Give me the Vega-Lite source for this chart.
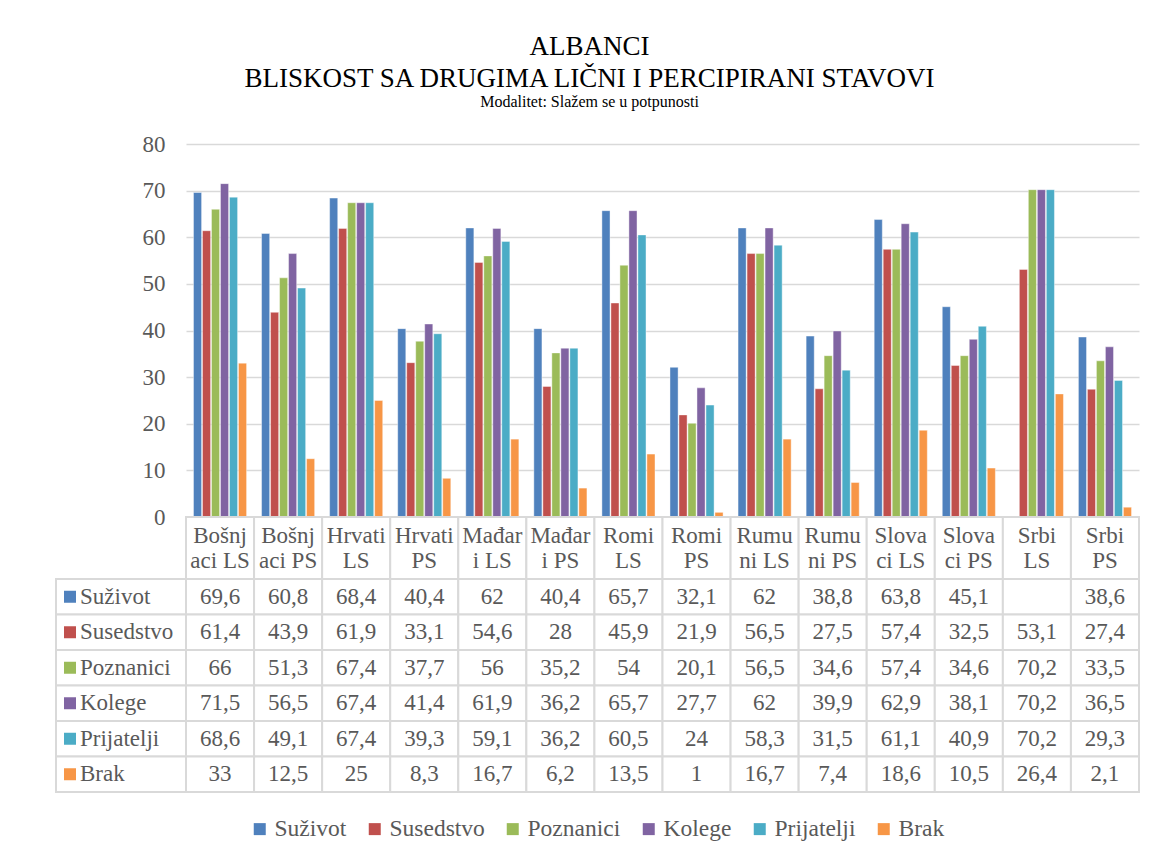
{
  "$schema": "https://vega.github.io/schema/vega-lite/v6.json",
  "background": "white",
  "padding": {"left": 55, "top": 33, "right": 14, "bottom": 10},
  "config": {
    "font": "Liberation Serif",
    "view": {"stroke": null},
    "concat": {"spacing": 0}
  },
  "title": {
    "text": ["ALBANCI", "BLISKOST SA DRUGIMA LIČNI I PERCIPIRANI STAVOVI"],
    "subtitle": "Modalitet: Slažem se u potpunosti",
    "anchor": "middle",
    "dx": -8,
    "font": "Liberation Serif",
    "fontSize": 27,
    "fontWeight": "normal",
    "lineHeight": 32,
    "color": "black",
    "subtitleFont": "Liberation Serif",
    "subtitleFontSize": 16,
    "subtitleColor": "black",
    "subtitlePadding": 1,
    "offset": 22
  },
  "datasets": {
    "vals": [
      {"grupa": "Bošnjaci LS", "stav": "Suživot", "vrednost": 69.6},
      {"grupa": "Bošnjaci PS", "stav": "Suživot", "vrednost": 60.8},
      {"grupa": "Hrvati LS", "stav": "Suživot", "vrednost": 68.4},
      {"grupa": "Hrvati PS", "stav": "Suživot", "vrednost": 40.4},
      {"grupa": "Mađari LS", "stav": "Suživot", "vrednost": 62},
      {"grupa": "Mađari PS", "stav": "Suživot", "vrednost": 40.4},
      {"grupa": "Romi LS", "stav": "Suživot", "vrednost": 65.7},
      {"grupa": "Romi PS", "stav": "Suživot", "vrednost": 32.1},
      {"grupa": "Rumuni LS", "stav": "Suživot", "vrednost": 62},
      {"grupa": "Rumuni PS", "stav": "Suživot", "vrednost": 38.8},
      {"grupa": "Slovaci LS", "stav": "Suživot", "vrednost": 63.8},
      {"grupa": "Slovaci PS", "stav": "Suživot", "vrednost": 45.1},
      {"grupa": "Srbi LS", "stav": "Suživot", "vrednost": null},
      {"grupa": "Srbi PS", "stav": "Suživot", "vrednost": 38.6},
      {"grupa": "Bošnjaci LS", "stav": "Susedstvo", "vrednost": 61.4},
      {"grupa": "Bošnjaci PS", "stav": "Susedstvo", "vrednost": 43.9},
      {"grupa": "Hrvati LS", "stav": "Susedstvo", "vrednost": 61.9},
      {"grupa": "Hrvati PS", "stav": "Susedstvo", "vrednost": 33.1},
      {"grupa": "Mađari LS", "stav": "Susedstvo", "vrednost": 54.6},
      {"grupa": "Mađari PS", "stav": "Susedstvo", "vrednost": 28},
      {"grupa": "Romi LS", "stav": "Susedstvo", "vrednost": 45.9},
      {"grupa": "Romi PS", "stav": "Susedstvo", "vrednost": 21.9},
      {"grupa": "Rumuni LS", "stav": "Susedstvo", "vrednost": 56.5},
      {"grupa": "Rumuni PS", "stav": "Susedstvo", "vrednost": 27.5},
      {"grupa": "Slovaci LS", "stav": "Susedstvo", "vrednost": 57.4},
      {"grupa": "Slovaci PS", "stav": "Susedstvo", "vrednost": 32.5},
      {"grupa": "Srbi LS", "stav": "Susedstvo", "vrednost": 53.1},
      {"grupa": "Srbi PS", "stav": "Susedstvo", "vrednost": 27.4},
      {"grupa": "Bošnjaci LS", "stav": "Poznanici", "vrednost": 66},
      {"grupa": "Bošnjaci PS", "stav": "Poznanici", "vrednost": 51.3},
      {"grupa": "Hrvati LS", "stav": "Poznanici", "vrednost": 67.4},
      {"grupa": "Hrvati PS", "stav": "Poznanici", "vrednost": 37.7},
      {"grupa": "Mađari LS", "stav": "Poznanici", "vrednost": 56},
      {"grupa": "Mađari PS", "stav": "Poznanici", "vrednost": 35.2},
      {"grupa": "Romi LS", "stav": "Poznanici", "vrednost": 54},
      {"grupa": "Romi PS", "stav": "Poznanici", "vrednost": 20.1},
      {"grupa": "Rumuni LS", "stav": "Poznanici", "vrednost": 56.5},
      {"grupa": "Rumuni PS", "stav": "Poznanici", "vrednost": 34.6},
      {"grupa": "Slovaci LS", "stav": "Poznanici", "vrednost": 57.4},
      {"grupa": "Slovaci PS", "stav": "Poznanici", "vrednost": 34.6},
      {"grupa": "Srbi LS", "stav": "Poznanici", "vrednost": 70.2},
      {"grupa": "Srbi PS", "stav": "Poznanici", "vrednost": 33.5},
      {"grupa": "Bošnjaci LS", "stav": "Kolege", "vrednost": 71.5},
      {"grupa": "Bošnjaci PS", "stav": "Kolege", "vrednost": 56.5},
      {"grupa": "Hrvati LS", "stav": "Kolege", "vrednost": 67.4},
      {"grupa": "Hrvati PS", "stav": "Kolege", "vrednost": 41.4},
      {"grupa": "Mađari LS", "stav": "Kolege", "vrednost": 61.9},
      {"grupa": "Mađari PS", "stav": "Kolege", "vrednost": 36.2},
      {"grupa": "Romi LS", "stav": "Kolege", "vrednost": 65.7},
      {"grupa": "Romi PS", "stav": "Kolege", "vrednost": 27.7},
      {"grupa": "Rumuni LS", "stav": "Kolege", "vrednost": 62},
      {"grupa": "Rumuni PS", "stav": "Kolege", "vrednost": 39.9},
      {"grupa": "Slovaci LS", "stav": "Kolege", "vrednost": 62.9},
      {"grupa": "Slovaci PS", "stav": "Kolege", "vrednost": 38.1},
      {"grupa": "Srbi LS", "stav": "Kolege", "vrednost": 70.2},
      {"grupa": "Srbi PS", "stav": "Kolege", "vrednost": 36.5},
      {"grupa": "Bošnjaci LS", "stav": "Prijatelji", "vrednost": 68.6},
      {"grupa": "Bošnjaci PS", "stav": "Prijatelji", "vrednost": 49.1},
      {"grupa": "Hrvati LS", "stav": "Prijatelji", "vrednost": 67.4},
      {"grupa": "Hrvati PS", "stav": "Prijatelji", "vrednost": 39.3},
      {"grupa": "Mađari LS", "stav": "Prijatelji", "vrednost": 59.1},
      {"grupa": "Mađari PS", "stav": "Prijatelji", "vrednost": 36.2},
      {"grupa": "Romi LS", "stav": "Prijatelji", "vrednost": 60.5},
      {"grupa": "Romi PS", "stav": "Prijatelji", "vrednost": 24},
      {"grupa": "Rumuni LS", "stav": "Prijatelji", "vrednost": 58.3},
      {"grupa": "Rumuni PS", "stav": "Prijatelji", "vrednost": 31.5},
      {"grupa": "Slovaci LS", "stav": "Prijatelji", "vrednost": 61.1},
      {"grupa": "Slovaci PS", "stav": "Prijatelji", "vrednost": 40.9},
      {"grupa": "Srbi LS", "stav": "Prijatelji", "vrednost": 70.2},
      {"grupa": "Srbi PS", "stav": "Prijatelji", "vrednost": 29.3},
      {"grupa": "Bošnjaci LS", "stav": "Brak", "vrednost": 33},
      {"grupa": "Bošnjaci PS", "stav": "Brak", "vrednost": 12.5},
      {"grupa": "Hrvati LS", "stav": "Brak", "vrednost": 25},
      {"grupa": "Hrvati PS", "stav": "Brak", "vrednost": 8.3},
      {"grupa": "Mađari LS", "stav": "Brak", "vrednost": 16.7},
      {"grupa": "Mađari PS", "stav": "Brak", "vrednost": 6.2},
      {"grupa": "Romi LS", "stav": "Brak", "vrednost": 13.5},
      {"grupa": "Romi PS", "stav": "Brak", "vrednost": 1},
      {"grupa": "Rumuni LS", "stav": "Brak", "vrednost": 16.7},
      {"grupa": "Rumuni PS", "stav": "Brak", "vrednost": 7.4},
      {"grupa": "Slovaci LS", "stav": "Brak", "vrednost": 18.6},
      {"grupa": "Slovaci PS", "stav": "Brak", "vrednost": 10.5},
      {"grupa": "Srbi LS", "stav": "Brak", "vrednost": 26.4},
      {"grupa": "Srbi PS", "stav": "Brak", "vrednost": 2.1}
    ],
    "grupe": [
      {"grupa": "Bošnjaci LS", "zaglavlje": "Bošnj\naci LS"},
      {"grupa": "Bošnjaci PS", "zaglavlje": "Bošnj\naci PS"},
      {"grupa": "Hrvati LS", "zaglavlje": "Hrvati\nLS"},
      {"grupa": "Hrvati PS", "zaglavlje": "Hrvati\nPS"},
      {"grupa": "Mađari LS", "zaglavlje": "Mađar\ni LS"},
      {"grupa": "Mađari PS", "zaglavlje": "Mađar\ni PS"},
      {"grupa": "Romi LS", "zaglavlje": "Romi\nLS"},
      {"grupa": "Romi PS", "zaglavlje": "Romi\nPS"},
      {"grupa": "Rumuni LS", "zaglavlje": "Rumu\nni LS"},
      {"grupa": "Rumuni PS", "zaglavlje": "Rumu\nni PS"},
      {"grupa": "Slovaci LS", "zaglavlje": "Slova\nci LS"},
      {"grupa": "Slovaci PS", "zaglavlje": "Slova\nci PS"},
      {"grupa": "Srbi LS", "zaglavlje": "Srbi\nLS"},
      {"grupa": "Srbi PS", "zaglavlje": "Srbi\nPS"}
    ],
    "stavovi": [
      {"stav": "Suživot"},
      {"stav": "Susedstvo"},
      {"stav": "Poznanici"},
      {"stav": "Kolege"},
      {"stav": "Prijatelji"},
      {"stav": "Brak"}
    ],
    "prazno": []
  },
  "columns": 2,
  "align": "each",
  "bounds": "flush",
  "spacing": 0,
  "concat": [
    {
      "width": 130,
      "height": 373,
      "data": {"name": "prazno"},
      "mark": "point",
      "encoding": {}
    },
    {
      "width": 953,
      "height": 373,
      "data": {"name": "vals"},
      "mark": {"type": "bar", "stroke": "white", "strokeWidth": 0.6, "strokeOpacity": 0.7},
      "encoding": {
        "x": {
          "field": "grupa",
          "type": "nominal",
          "scale": {"domain": ["Bošnjaci LS", "Bošnjaci PS", "Hrvati LS", "Hrvati PS", "Mađari LS", "Mađari PS", "Romi LS", "Romi PS", "Rumuni LS", "Rumuni PS", "Slovaci LS", "Slovaci PS", "Srbi LS", "Srbi PS"], "paddingInner": 0.22, "paddingOuter": 0.11},
          "axis": null
        },
        "xOffset": {
          "field": "stav",
          "type": "nominal",
          "scale": {"domain": ["Suživot", "Susedstvo", "Poznanici", "Kolege", "Prijatelji", "Brak"], "paddingInner": 0.1}
        },
        "y": {
          "field": "vrednost",
          "type": "quantitative",
          "scale": {"domain": [0, 80], "nice": false},
          "axis": {
            "title": null,
            "values": [0, 10, 20, 30, 40, 50, 60, 70, 80],
            "domain": false,
            "ticks": false,
            "labelPadding": 21,
            "labelFont": "Liberation Serif",
            "labelFontSize": 23,
            "labelColor": "#595959",
            "gridColor": "#d9d9d9",
            "gridWidth": 1.5
          }
        },
        "color": {
          "field": "stav",
          "type": "nominal",
          "scale": {
            "domain": ["Suživot", "Susedstvo", "Poznanici", "Kolege", "Prijatelji", "Brak"],
            "range": ["#4F81BD", "#C0504D", "#9BBB59", "#8064A2", "#4BACC6", "#F79646"]
          },
          "legend": {
            "title": null,
            "orient": "none",
            "legendX": 192,
            "legendY": 673,
            "padding": 0,
            "direction": "horizontal",
            "symbolType": "square",
            "symbolSize": 144,
            "symbolStrokeWidth": 0,
            "symbolOpacity": 1,
            "labelFont": "Liberation Serif",
            "labelFontSize": 23.5,
            "labelColor": "#595959",
            "labelOffset": 3,
            "columnPadding": 16
          }
        }
      }
    },
    {
      "width": 130,
      "height": 62,
      "data": {"name": "prazno"},
      "mark": "point",
      "encoding": {}
    },
    {
      "width": 953,
      "height": 62,
      "data": {"name": "grupe"},
      "encoding": {
        "x": {
          "field": "grupa",
          "type": "nominal",
          "sort": null,
          "scale": {"paddingInner": 0, "paddingOuter": 0},
          "axis": null
        }
      },
      "layer": [
        {"mark": {"type": "rect", "fill": "white", "stroke": "#d9d9d9", "strokeWidth": 2}},
        {
          "mark": {"type": "text", "font": "Liberation Serif", "fontSize": 23, "color": "#595959", "lineBreak": "\n", "lineHeight": 25, "baseline": "middle", "align": "center", "dy": -12},
          "encoding": {"text": {"field": "zaglavlje", "type": "nominal"}}
        }
      ]
    },
    {
      "width": 130,
      "height": 213,
      "data": {"name": "stavovi"},
      "encoding": {
        "y": {
          "field": "stav",
          "type": "nominal",
          "sort": null,
          "scale": {"paddingInner": 0, "paddingOuter": 0},
          "axis": null
        }
      },
      "layer": [
        {"mark": {"type": "rect", "fill": "white", "stroke": "#d9d9d9", "strokeWidth": 2}},
        {
          "mark": {"type": "point", "shape": "square", "size": 144, "filled": true, "opacity": 1, "xOffset": -51},
          "encoding": {
            "color": {"field": "stav", "type": "nominal", "legend": null}
          }
        },
        {
          "mark": {"type": "text", "font": "Liberation Serif", "fontSize": 23, "color": "#595959", "align": "left", "baseline": "middle", "dx": -41},
          "encoding": {"text": {"field": "stav", "type": "nominal"}}
        }
      ]
    },
    {
      "width": 953,
      "height": 213,
      "data": {"name": "vals"},
      "transform": [
        {"calculate": "datum.vrednost == null ? '' : replace(format(datum.vrednost, '.1~f'), '.', ',')", "as": "oznaka"}
      ],
      "encoding": {
        "x": {
          "field": "grupa",
          "type": "nominal",
          "scale": {"domain": ["Bošnjaci LS", "Bošnjaci PS", "Hrvati LS", "Hrvati PS", "Mađari LS", "Mađari PS", "Romi LS", "Romi PS", "Rumuni LS", "Rumuni PS", "Slovaci LS", "Slovaci PS", "Srbi LS", "Srbi PS"], "paddingInner": 0, "paddingOuter": 0},
          "axis": null
        },
        "y": {
          "field": "stav",
          "type": "nominal",
          "scale": {"domain": ["Suživot", "Susedstvo", "Poznanici", "Kolege", "Prijatelji", "Brak"], "paddingInner": 0, "paddingOuter": 0},
          "axis": null
        }
      },
      "layer": [
        {"mark": {"type": "rect", "fill": "white", "stroke": "#d9d9d9", "strokeWidth": 2}},
        {
          "mark": {"type": "text", "font": "Liberation Serif", "fontSize": 23, "color": "#595959", "baseline": "middle", "align": "center"},
          "encoding": {"text": {"field": "oznaka", "type": "nominal"}}
        }
      ]
    }
  ]
}
